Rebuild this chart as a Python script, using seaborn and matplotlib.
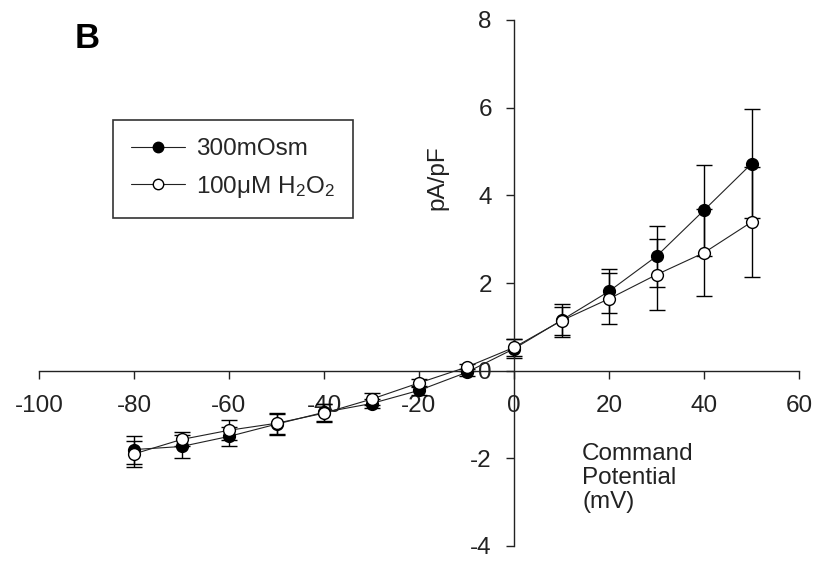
import matplotlib
matplotlib.use("Agg")
import matplotlib.pyplot as plt
import seaborn as sns
import pandas as pd
from matplotlib.lines import Line2D

# ---- data ----
voltage = [-80, -70, -60, -50, -40, -30, -20, -10, 0, 10, 20, 30, 40, 50]
ctrl_mean = [-1.80, -1.73, -1.50, -1.22, -0.95, -0.75, -0.45, -0.04, 0.50, 1.15, 1.81, 2.61, 3.66, 4.72]
ctrl_sem = [0.32, 0.26, 0.21, 0.24, 0.20, 0.10, 0.10, 0.08, 0.22, 0.38, 0.50, 0.70, 1.04, 1.24]
h2o2_mean = [-1.90, -1.57, -1.36, -1.20, -0.97, -0.65, -0.28, 0.08, 0.53, 1.14, 1.64, 2.19, 2.69, 3.39]
h2o2_sem = [0.30, 0.16, 0.23, 0.24, 0.20, 0.14, 0.10, 0.08, 0.20, 0.32, 0.58, 0.81, 0.99, 1.26]
series_labels = ["300mOsm", "100\u03bcM H$_2$O$_2$"]
xticks = [-100, -80, -60, -40, -20, 0, 20, 40, 60]
yticks = [-4, -2, 0, 2, 4, 6, 8]

sns.set_style("ticks")
plt.rcParams["font.family"] = ["Liberation Sans", "DejaVu Sans"]
plt.rcParams["mathtext.fontset"] = "custom"
plt.rcParams["mathtext.rm"] = "Liberation Sans"
plt.rcParams["mathtext.it"] = "Liberation Sans:italic"

W, H = 817, 561
fig = plt.figure(figsize=(W / 100, H / 100), dpi=100)
ax = fig.add_axes([39 / W, 1 - 546 / H, 760 / W, 526 / H])

df_c = pd.DataFrame({"V": voltage, "I": ctrl_mean})
df_h = pd.DataFrame({"V": voltage, "I": h2o2_mean})

ms = 8.5
ax.errorbar(voltage, ctrl_mean, yerr=ctrl_sem, fmt="none", ecolor="black",
            elinewidth=1.0, capsize=6, capthick=1.0, zorder=1.5, clip_on=False)
ax.errorbar(voltage, h2o2_mean, yerr=h2o2_sem, fmt="none", ecolor="black",
            elinewidth=1.0, capsize=6, capthick=1.0, zorder=1.5, clip_on=False)

sns.lineplot(data=df_c, x="V", y="I", ax=ax, color="#222222", linewidth=0.8,
             marker="o", markersize=ms, markerfacecolor="black",
             markeredgecolor="black", markeredgewidth=1.0, zorder=3, clip_on=False)
sns.lineplot(data=df_h, x="V", y="I", ax=ax, color="#222222", linewidth=0.8,
             marker="o", markersize=ms, markerfacecolor="white",
             markeredgecolor="black", markeredgewidth=1.0, zorder=4, clip_on=False)

ax.set_xlim(-100, 60)
ax.set_ylim(-4, 8)
ax.set_xticks(xticks)
ax.set_yticks(yticks)
ax.set_xticklabels([str(v) for v in xticks])
ax.set_yticklabels([str(v) for v in yticks])
ax.set_xlabel("")
ax.set_ylabel("")

for side in ["top", "right"]:
    ax.spines[side].set_visible(False)
ax.spines["left"].set_position(("data", 0))
ax.spines["bottom"].set_position(("data", 0))
for side in ["left", "bottom"]:
    ax.spines[side].set_linewidth(1.0)
    ax.spines[side].set_color("#222222")

ax.tick_params(axis="x", direction="out", length=6, width=1.0, pad=11.5,
               labelsize=17.5, colors="#222222")
ax.tick_params(axis="y", direction="out", length=6, width=1.0, pad=10,
               labelsize=17.5, colors="#222222")

# axis labels
fig.text(437 / W, 1 - 178 / H, "pA/pF", rotation=90, ha="center", va="center",
         fontsize=17.5, color="#222222")
fig.text(582 / W, 1 - 443 / H, "Command\nPotential\n(mV)", ha="left", va="top",
         fontsize=17.5, linespacing=1.12, color="#222222")
fig.text(75 / W, 1 - 48 / H, "B", ha="left", va="baseline", fontsize=25,
         fontweight="bold", color="black")

handles = [
    Line2D([], [], color="#222222", linewidth=0.8, marker="o", markersize=ms - 1,
           markerfacecolor="black", markeredgecolor="black"),
    Line2D([], [], color="#222222", linewidth=0.8, marker="o", markersize=ms - 1,
           markerfacecolor="white", markeredgecolor="black"),
]
leg = fig.legend(handles, series_labels, loc="upper left",
                 bbox_to_anchor=(113 / W, 1 - 120 / H), bbox_transform=fig.transFigure,
                 fontsize=17.5, frameon=True, fancybox=False, framealpha=1,
                 edgecolor="#333333", handlelength=2.2, handletextpad=0.45,
                 labelspacing=0.55, borderpad=0.75, borderaxespad=0, numpoints=1)
leg.get_frame().set_linewidth(1.2)

fig.savefig("out.png", dpi=100)
